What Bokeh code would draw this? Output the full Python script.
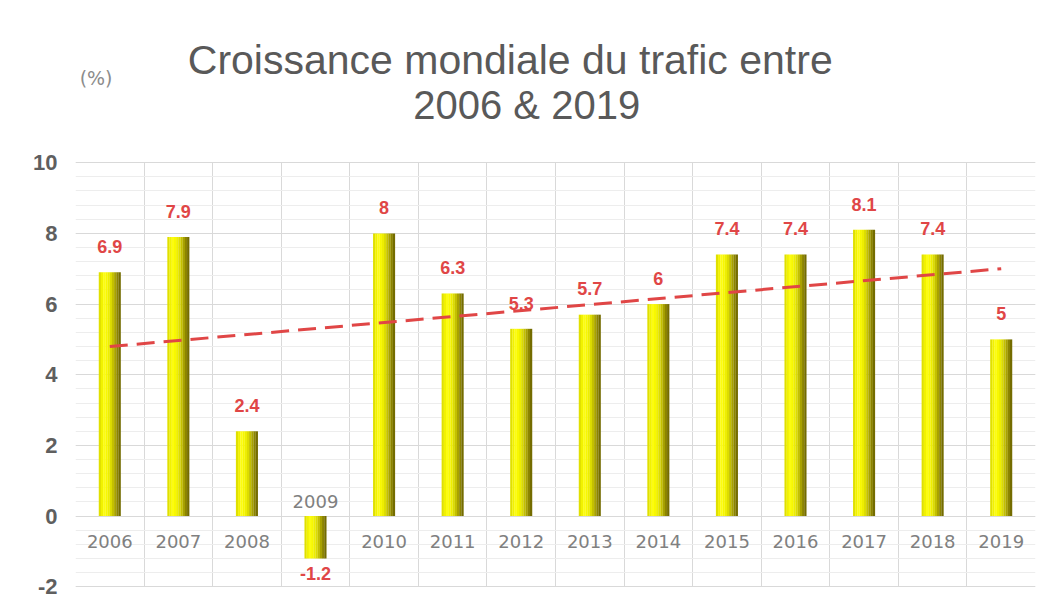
from bokeh.plotting import figure
from bokeh.models import (Range1d, FactorRange, SingleIntervalTicker, FixedTicker,
                          ColumnDataSource, PrintfTickFormatter)
from bokeh.transform import dodge
from bokeh.embed import file_html
from bokeh.resources import INLINE
from bokeh.core.properties import value

# ---- data ----
years = ["2006", "2007", "2008", "2009", "2010", "2011", "2012",
         "2013", "2014", "2015", "2016", "2017", "2018", "2019"]
growth = [6.9, 7.9, 2.4, -1.2, 8.0, 6.3, 5.3, 5.7, 6.0, 7.4, 7.4, 8.1, 7.4, 5.0]
value_text = ["6.9", "7.9", "2.4", "-1.2", "8", "6.3", "5.3",
              "5.7", "6", "7.4", "7.4", "8.1", "7.4", "5"]
trend_years = ["2006", "2019"]
trend_values = [4.8, 7.0]
y_min, y_max, y_step = -2, 10, 2

title_line1 = "Croissance mondiale du trafic entre"
title_line2 = "2006 & 2019"
unit_text = "(%)"

# ---- styling ----
GRID = "#d9d9d9"
MINOR = "#ededed"
RED = "#e04646"
BAR_W = 0.32
grad = ["#e0e000", "#f2f200", "#fcfc10", "#f8f800", "#eeee00",
        "#dcdc00", "#c4c000", "#a8a200", "#8c8400", "#746c00"]

W, H = 1036, 603
p = figure(width=W, height=H, x_range=FactorRange(*years, range_padding=0),
           y_range=Range1d(y_min - 0.02, 14.59), output_backend="svg",
           toolbar_location=None, title=None,
           min_border_left=75, min_border_right=1, min_border_top=0,
           min_border_bottom=16)
p.background_fill_color = "white"
p.border_fill_color = "white"
p.outline_line_color = None

# axes
p.xaxis.visible = False
p.yaxis.ticker = SingleIntervalTicker(interval=y_step, num_minor_ticks=5)
p.yaxis.bounds = (y_min, y_max)
p.yaxis.formatter = PrintfTickFormatter(format="%d")
p.yaxis.axis_line_color = None
p.yaxis.major_tick_line_color = None
p.yaxis.minor_tick_line_color = None
p.yaxis.major_tick_out = 0
p.yaxis.minor_tick_out = 0
p.yaxis.major_label_standoff = 18
p.yaxis.major_label_text_font = "Liberation Sans"
p.yaxis.major_label_text_font_style = "bold"
p.yaxis.major_label_text_font_size = "22px"
p.yaxis.major_label_text_color = "#5f5f5f"

# grids (restricted to the plotting area below the title)
nb = len(years)
p.ygrid.grid_line_color = GRID
p.ygrid.minor_grid_line_color = MINOR
p.ygrid.bounds = (y_min - 0.01, y_max + 0.01)
xg = p.xgrid[0]
if "cross_bounds" in xg.properties():
    xg.ticker = FixedTicker(ticks=list(range(nb + 1)))
    xg.bounds = (-0.01, nb + 0.01)
    xg.cross_bounds = (y_min, y_max)
    xg.grid_line_color = GRID
else:
    xg.visible = False
    edges = list(range(nb + 1))
    p.segment(x0=edges, y0=[y_min] * (nb + 1), x1=edges, y1=[y_max] * (nb + 1),
              line_color=GRID, line_width=1)

# bars with a simulated horizontal gradient
src = ColumnDataSource(dict(year=years, growth=growth))
n = len(grad)
sw = BAR_W / n
for i, c in enumerate(grad):
    off = -BAR_W / 2 + sw * (i + 0.5)
    p.vbar(x=dodge("year", off, range=p.x_range), top="growth", bottom=0,
           width=sw * 1.05, source=src, fill_color=c, line_color=None)

# trend line
p.line(x=trend_years, y=trend_values, line_color=RED, line_width=3, line_dash="18 9")

# value labels
lab_y = [v + 0.73 if v >= 0 else v - 0.42 for v in growth]
p.text(x=years, y=lab_y, text=value_text, text_align="center",
       text_baseline="middle", text_color=RED,
       text_font=value("Liberation Sans"), text_font_style="bold",
       text_font_size="18px")

# category labels (inside the plot, above zero for negative bars)
cat_y = [-0.71 if v >= 0 else 0.40 for v in growth]
p.text(x=years, y=cat_y, text=years, text_align="center", text_baseline="middle",
       text_color="#808080", text_font=value("DejaVu Sans"), text_font_size="18px")

# title & unit
p.text(x=[6.34], y=[12.92], text=[title_line1],
       text_align="center", text_baseline="middle",
       text_font=value("Liberation Sans"), text_font_size="41px",
       text_color="#595959")
p.text(x=[6.58], y=[11.64], text=[title_line2],
       text_align="center", text_baseline="middle",
       text_font=value("Liberation Sans"), text_font_size="40px",
       text_color="#595959")
p.text(x=[0.54], y=[12.39], text=[unit_text], text_align="right",
       text_baseline="middle", text_font=value("DejaVu Sans"),
       text_font_size="19px", text_color="#8c8c8c")

open("out.html", "w").write(file_html(p, INLINE))
